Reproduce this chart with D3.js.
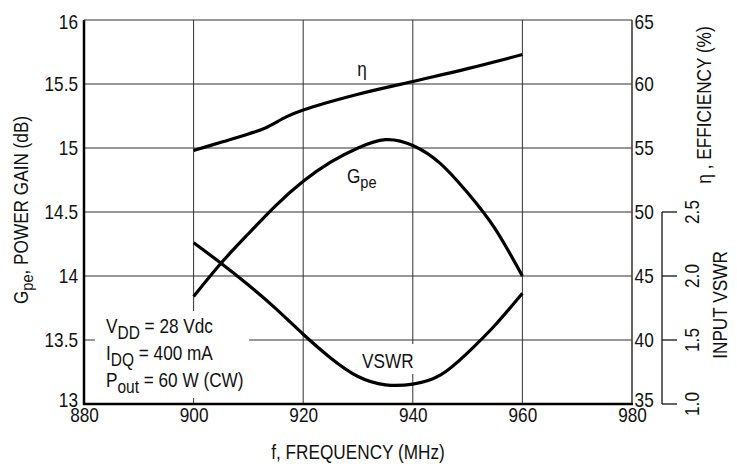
<!DOCTYPE html>
<html>
<head>
<meta charset="utf-8">
<script src="https://cdn.jsdelivr.net/npm/d3@7"></script>
<style>
  body { margin: 0; background: #fff; }
  text { font-family: "Liberation Sans", Arial, sans-serif; fill: #111; }
</style>
</head>
<body>
<svg id="chart" width="737" height="464"></svg>
<script>
// frequencies (MHz) where the curves were read
let freq = [900, 905, 910, 915, 920, 925, 930, 935, 940, 945, 950, 955, 960];
// power gain Gpe (dB)
let gain = [13.84, 14.10, 14.33, 14.55, 14.74, 14.89, 15.0, 15.065, 15.02, 14.88, 14.65, 14.37, 14.0];
// input VSWR
let vswr = [2.26, 2.10, 1.93, 1.745, 1.545, 1.36, 1.215, 1.15, 1.155, 1.225, 1.40, 1.615, 1.865];
// efficiency (%) - read at its own points
let effFreq = [900, 905, 910, 913, 917, 920, 930, 940, 950, 960];
let eff = [54.8, 55.45, 56.1, 56.55, 57.45, 57.97, 59.2, 60.2, 61.2, 62.3];

let freqTicks = [880, 900, 920, 940, 960, 980];
let gainTicks = [13, 13.5, 14, 14.5, 15, 15.5, 16];
let effTicks = [35, 40, 45, 50, 55, 60, 65];
let vswrTicks = [1.0, 1.5, 2.0, 2.5];

let svg = d3.select("#chart");
let narrow = "scale(0.86,1)"; // the original type is a condensed face

let xScale = d3.scaleLinear().domain([880, 980]).range([84, 632]);
let yGain = d3.scaleLinear().domain([13, 16]).range([404, 20]);
let yEff = d3.scaleLinear().domain([35, 65]).range([404, 20]);
let yVswr = d3.scaleLinear().domain([1.0, 2.5]).range([404, 212]);

function label(x, y, rot, txt, anchor) {
  return svg.append("text")
    .attr("transform", `translate(${x},${y}) rotate(${rot}) ${narrow}`)
    .attr("text-anchor", anchor || "start")
    .style("font-size", "20px")
    .text(txt || null);
}

// end labels sit a little inside the frame, as in the original
function endShift(lo, hi) {
  return d => d === lo ? "0.12em" : d === hi ? "0.42em" : "0.32em";
}

// grid
svg.append("g")
  .selectAll("line")
  .data(gainTicks.slice(1))
  .join("line")
  .attr("x1", 84).attr("x2", 632)
  .attr("y1", d => yGain(d)).attr("y2", d => yGain(d))
  .attr("stroke", "#333").attr("stroke-width", 1);

svg.append("g")
  .selectAll("line")
  .data(freqTicks.slice(1))
  .join("line")
  .attr("x1", d => xScale(d)).attr("x2", d => xScale(d))
  .attr("y1", 20).attr("y2", 404)
  .attr("stroke", "#333").attr("stroke-width", d => d === 980 ? 1.5 : 1);

// white box behind the conditions text
svg.append("rect")
  .attr("x", 95).attr("y", 311)
  .attr("width", 154).attr("height", 87)
  .attr("fill", "#fff");

// curves
let line = d3.line().curve(d3.curveNatural);
let effLine = d3.line().curve(d3.curveCatmullRom.alpha(0.5));

svg.append("path")
  .attr("d", line(freq.map((f, i) => [xScale(f), yGain(gain[i])])))
  .attr("fill", "none").attr("stroke", "#000").attr("stroke-width", 3.2);

svg.append("path")
  .attr("d", line(freq.map((f, i) => [xScale(f), yVswr(vswr[i])])))
  .attr("fill", "none").attr("stroke", "#000").attr("stroke-width", 3.2);

svg.append("path")
  .attr("d", effLine(effFreq.map((f, i) => [xScale(f), yEff(eff[i])])))
  .attr("fill", "none").attr("stroke", "#000").attr("stroke-width", 3.2);

// axes frame
svg.append("line").attr("x1", 84).attr("x2", 84).attr("y1", 20).attr("y2", 405)
  .attr("stroke", "#000").attr("stroke-width", 2.5);
svg.append("line").attr("x1", 83).attr("x2", 633).attr("y1", 404).attr("y2", 404)
  .attr("stroke", "#000").attr("stroke-width", 2.5);

// tick labels
svg.append("g")
  .attr("transform", "translate(84,0)")
  .call(d3.axisLeft(yGain).tickValues(gainTicks).tickSize(0).tickPadding(7).tickFormat(d3.format("")))
  .call(g => g.select(".domain").remove())
  .selectAll("text").style("font-size", "20px").attr("font-family", null).attr("transform", narrow)
  .attr("dy", endShift(13, 16));

svg.append("g")
  .attr("transform", "translate(0,404)")
  .call(d3.axisBottom(xScale).tickValues(freqTicks).tickSize(0).tickPadding(4).tickFormat(d3.format("d")))
  .call(g => g.select(".domain").remove())
  .selectAll("text").style("font-size", "20px").attr("font-family", null).attr("transform", narrow);

svg.append("g")
  .attr("transform", "translate(632,0)")
  .call(d3.axisRight(yEff).tickValues(effTicks).tickSize(0).tickPadding(3).tickFormat(d3.format("d")))
  .call(g => g.select(".domain").remove())
  .selectAll("text").style("font-size", "20px").attr("font-family", null).attr("transform", narrow)
  .attr("dy", endShift(35, 65));

// VSWR axis
let vAxis = svg.append("g").attr("transform", "translate(662,0)");
vAxis.append("line").attr("x1", 0).attr("x2", 0)
  .attr("y1", yVswr(2.5)).attr("y2", yVswr(1.0))
  .attr("stroke", "#000").attr("stroke-width", 1.2);
vAxis.selectAll(".vtick")
  .data(vswrTicks)
  .join("line")
  .attr("class", "vtick")
  .attr("x1", 0).attr("x2", 15)
  .attr("y1", d => yVswr(d)).attr("y2", d => yVswr(d))
  .attr("stroke", "#000").attr("stroke-width", 1.2);
vAxis.selectAll(".vlab")
  .data(vswrTicks)
  .join("text")
  .attr("class", "vlab")
  .attr("transform", d => `translate(37,${yVswr(d)}) rotate(-90) ${narrow}`)
  .attr("text-anchor", "middle")
  .style("font-size", "20px")
  .text(d => d3.format(".1f")(d));

// axis titles
let leftTitle = label(28, 210, -90, null, "middle");
leftTitle.append("tspan").text("G");
leftTitle.append("tspan").text("pe").attr("dy", 5).style("font-size", "17px");
leftTitle.append("tspan").text(", POWER GAIN (dB)").attr("dy", -5);

label(711, 105, -90, "\u03B7 , EFFICIENCY (%)", "middle");
label(727, 305, -90, "INPUT VSWR", "middle");
label(358, 459, 0, "f, FREQUENCY (MHz)", "middle");

// curve labels
label(362, 76, 0, "\u03B7", "middle");

let gLab = label(347, 183, 0);
gLab.append("tspan").text("G");
gLab.append("tspan").text("pe").attr("dy", 5).style("font-size", "17px");

svg.append("rect")
  .attr("x", 360).attr("y", 344)
  .attr("width", 56).attr("height", 30)
  .attr("fill", "#fff");
label(362, 368, 0, "VSWR");

// conditions
let conds = [["V", "DD", " = 28 Vdc"], ["I", "DQ", " = 400 mA"], ["P", "out", " = 60 W (CW)"]];
conds.forEach((d, i) => {
  let t = label(106, 333 + i * 27, 0);
  t.append("tspan").text(d[0]);
  t.append("tspan").text(d[1]).attr("dy", 6).style("font-size", "18px");
  t.append("tspan").text(d[2]).attr("dy", -6);
});
</script>
</body>
</html>
